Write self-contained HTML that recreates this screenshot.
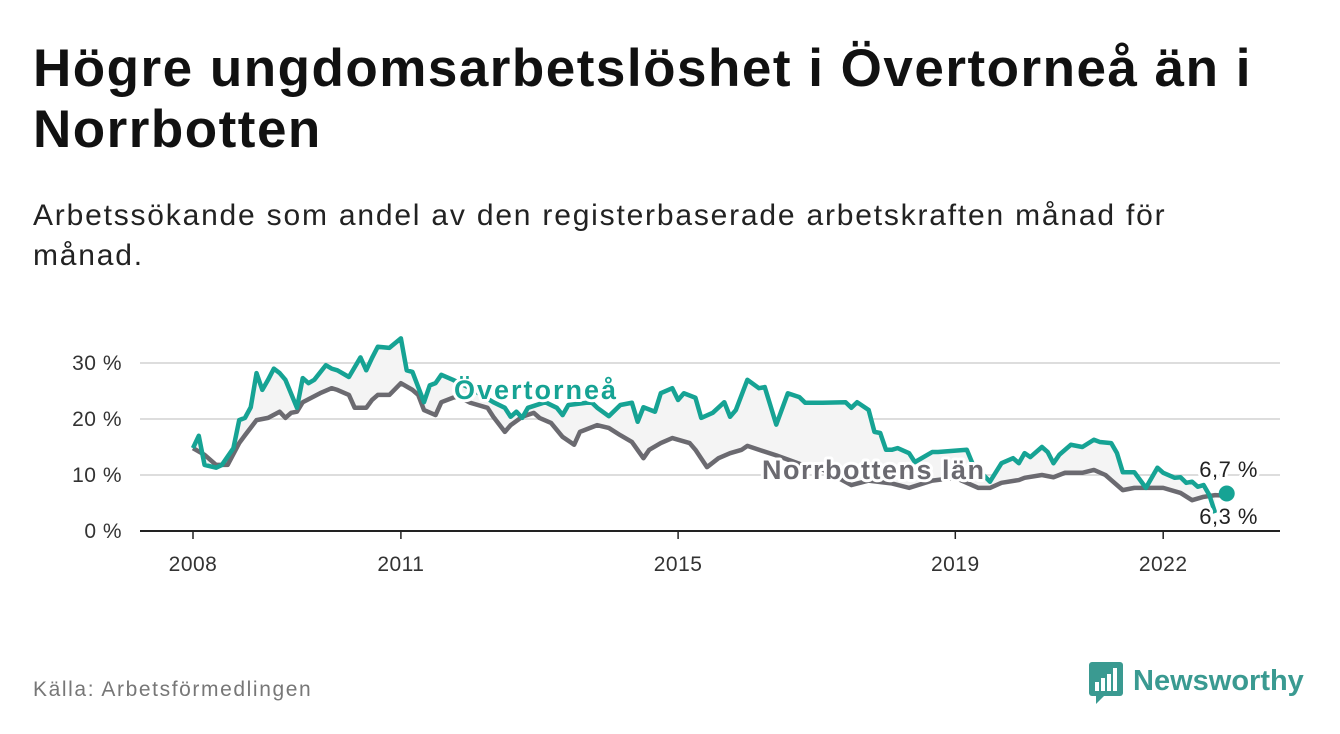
<!DOCTYPE html>
<html><head><meta charset="utf-8"><style>
body{margin:0;width:1340px;height:734px;background:#fff;font-family:"Liberation Sans",sans-serif;overflow:hidden;position:relative}
#title{position:absolute;left:33px;top:38px;font-size:53px;font-weight:bold;line-height:61px;color:#111;letter-spacing:1.5px}
#sub{position:absolute;left:33px;top:196px;font-size:30px;line-height:40px;color:#222;width:1200px;letter-spacing:1.8px}
#src{position:absolute;left:33px;top:678px;font-size:21px;color:#777;letter-spacing:1.6px}
#logo{position:absolute;left:1088px;top:660px}
</style></head><body>
<div id="title">Högre ungdomsarbetslöshet i Övertorneå än i<br>Norrbotten</div>
<div id="sub">Arbetssökande som andel av den registerbaserade arbetskraften månad för månad.</div>
<svg id="chart" width="1340" height="734" style="position:absolute;left:0;top:0"></svg>
<div id="src">Källa: Arbetsförmedlingen</div>
<div id="logo">
<svg width="220" height="46"><rect x="1" y="2" width="34" height="34" rx="3" fill="#3a9a91"/><path d="M8,36 L8,44 L16,36Z" fill="#3a9a91"/>
<rect x="7" y="22" width="4" height="9" fill="#fff"/><rect x="13" y="18" width="4" height="13" fill="#fff"/><rect x="19" y="14" width="4" height="17" fill="#fff"/><rect x="25" y="8" width="4" height="23" fill="#fff"/>
<text x="45" y="30" font-family="Liberation Sans, sans-serif" font-size="29" font-weight="bold" fill="#3a9a91">Newsworthy</text></svg></div>
<script>
const tealMonths=[0,1,2,4,5,7,8,9,10,11,12,13,14,15,16,18,19,20,21,23,24,25,27,29,30,31,32,34,36,37,38,40,41,42,43,45,48,52,54,55,56,57,58,61,63,64,65,69,70,72,74,76,77,78,80,81,83,84,85,87,88,90,92,93,94,96,98,99,101,103,105,106,109,113,114,115,117,118,119,120,121,122,124,125,128,129,134,135,138,140,142,143,144,145,147,148,149,150,152,154,156,157,159,160,161,163,165,167,168,170,171,172,173,174,175,176,177];
const tealValues=[14.8,17,11.8,11.3,11.8,14.8,19.8,20.2,22.1,28.2,25.2,27,29,28.2,27,22,27.3,26.4,27,29.6,29,28.7,27.5,31,28.7,30.9,32.9,32.7,34.4,28.7,28.4,23,26,26.4,27.9,27,25.5,23,22,20.4,21.3,20.2,22,23,22,20.7,22.5,23,22,20.5,22.5,22.9,19.5,22.1,21.3,24.6,25.5,23.4,24.6,23.8,20.2,21.1,23,20.4,21.6,27,25.5,25.7,19,24.6,23.9,22.9,22.9,23,22,23,21.6,17.7,17.5,14.5,14.5,14.8,13.9,12.3,14.1,14.1,14.5,12,8.8,12.1,13,12.1,13.9,13.2,15,14.1,12.1,13.6,15.4,15,16.3,15.9,15.7,13.9,10.5,10.5,7.7,11.3,10.4,9.5,9.6,8.6,8.8,7.9,8.2,6.4,3.2];
const grayMonths=[0,2,4,6,8,9,11,13,15,16,17,18,19,22,24,25,27,28,30,31,32,34,36,38,39,40,42,43,45,46,48,51,52,54,55,57,59,60,62,64,66,67,70,72,74,76,78,79,81,83,86,87,89,91,93,95,96,98,101,105,109,114,117,121,124,128,132,136,138,140,143,144,147,149,151,154,156,158,159,161,163,165,168,171,173,175,177,179];
const grayValues=[14.8,13.6,11.8,11.8,15.7,17.1,19.8,20.2,21.3,20.2,21.1,21.3,23,24.6,25.5,25.2,24.3,22,22,23.4,24.3,24.3,26.4,25.2,24.3,21.6,20.7,23,23.8,24,22.9,22,20.4,17.7,18.9,20.4,21.1,20.2,19.3,16.8,15.4,17.7,18.9,18.4,17.1,15.9,13,14.5,15.7,16.6,15.7,14.5,11.4,13,13.9,14.5,15.2,14.5,13.5,12,11,8.2,9,8.5,7.7,9,9.5,7.7,7.7,8.6,9.1,9.5,10,9.6,10.4,10.4,10.9,10,9.1,7.3,7.7,7.7,7.7,6.8,5.5,6.1,6.4,6.3];
const lastTeal={month:179,value:6.7};
const yTicks=[0,10,20,30];
const yTickLabels=["0 %","10 %","20 %","30 %"];
const xTickYears=[2008,2011,2015,2019,2022];

const NS="http://www.w3.org/2000/svg";
const svg=document.getElementById('chart');
const xs=m=>193+m*5.775;
const ys=v=>531-v*5.6;
function mk(t,a,p){const e=document.createElementNS(NS,t);for(const k in a)e.setAttribute(k,a[k]);(p||svg).appendChild(e);return e;}

yTicks.forEach((t,i)=>{
  const l=mk('line',{x1:140,x2:1280,y1:ys(t),y2:ys(t),stroke:t===0?'#222':'#ddd','stroke-width':2});
  
  
  const tx=mk('text',{x:122,y:ys(t)+7,'text-anchor':'end','font-size':21,fill:'#333','font-family':'Liberation Sans, sans-serif','letter-spacing':0.5});
  tx.textContent=yTickLabels[i];
  
  
});
xTickYears.forEach(yr=>{
  const m=(yr-2008)*12;
  const tk=mk('line',{x1:xs(m),x2:xs(m),y1:531,y2:539,stroke:'#222','stroke-width':1.5});
  
  
  const tx=mk('text',{x:xs(m),y:571,'text-anchor':'middle','font-size':21,fill:'#333','font-family':'Liberation Sans, sans-serif','letter-spacing':0.5});
  tx.textContent=yr;
  
  
});
function interp(ms,vs,m){for(let i=0;i<ms.length-1;i++){if(m>=ms[i]&&m<=ms[i+1]){const f=(m-ms[i])/(ms[i+1]-ms[i]||1);return vs[i]+f*(vs[i+1]-vs[i]);}}return vs[vs.length-1];}
const upperPts=[],lowerPts=[];
for(let m=0;m<=177;m++){upperPts.push(xs(m)+','+ys(interp(tealMonths,tealValues,m)));lowerPts.unshift(xs(m)+','+ys(interp(grayMonths,grayValues,m)));}
const area=mk('polygon',{points:upperPts.concat(lowerPts).join(' '),fill:'#f4f4f4'});


const gp=mk('polyline',{points:grayMonths.map((m,i)=>xs(m)+','+ys(grayValues[i])).join(' '),fill:'none',stroke:'#6b6a70','stroke-width':4.5,'stroke-linejoin':'round'});


const tp=mk('polyline',{points:tealMonths.map((m,i)=>xs(m)+','+ys(tealValues[i])).join(' '),fill:'none',stroke:'#16a394','stroke-width':4.5,'stroke-linejoin':'round'});


const dot=mk('circle',{cx:xs(lastTeal.month),cy:ys(lastTeal.value),r:8,fill:'#16a394'});


function lab(t,xx,yy,fill,sz,w,name,anchor,ls){const e=mk('text',{x:xx,y:yy,fill:fill,'font-size':sz,'font-weight':w,'font-family':'Liberation Sans, sans-serif',stroke:'#fff','stroke-width':6,'paint-order':'stroke','stroke-linejoin':'round','text-anchor':anchor||'start','letter-spacing':ls||0});e.textContent=t;}
lab('Övertorneå',454,399,'#16a394',27,'bold','overtornea-label','start',2);
lab('Norrbottens län',762,479,'#6b6a70',27,'bold','norrbotten-label','start',1.5);
lab('6,7 %',1258,477,'#222',22,'normal','overtornea-value-label','end',0.5);
lab('6,3 %',1258,524,'#222',22,'normal','norrbotten-value-label','end',0.5);
</script>
</body></html>
